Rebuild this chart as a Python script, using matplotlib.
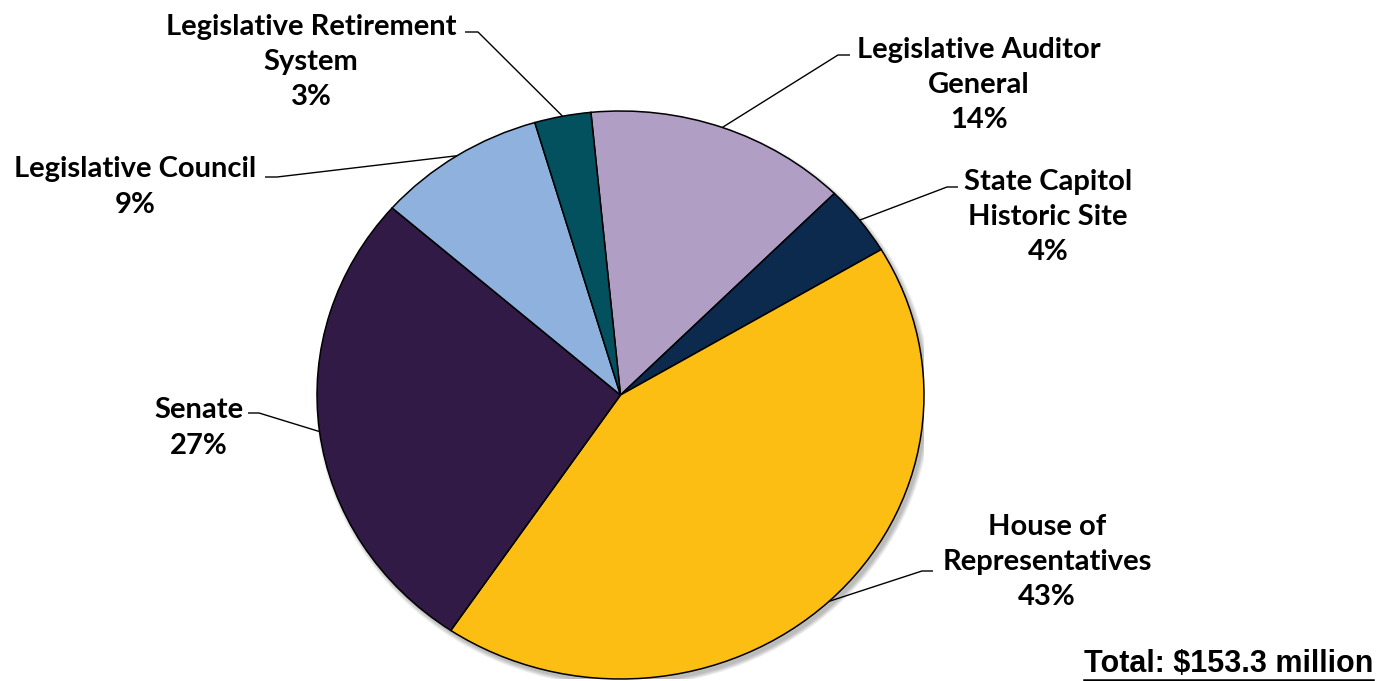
import numpy as np
import matplotlib
matplotlib.use("Agg")
import matplotlib.pyplot as plt
from matplotlib.patches import Ellipse

# Budget shares by entity, listed clockwise from the top
labels = ["Legislative Auditor\nGeneral", "State Capitol\nHistoric Site",
          "House of\nRepresentatives", "Senate", "Legislative Council",
          "Legislative Retirement\nSystem"]
shares = [14, 4, 43, 27, 9, 3]
colors = ["#B09EC5", "#0C2A4E", "#FDBE14", "#311A46", "#8EB1DE", "#03505F"]
total_text = "Total: $153.3 million"

W, H = 1390, 681
fig = plt.figure(figsize=(W / 100, H / 100), dpi=100)
fig.patch.set_facecolor("white")

# Pie area (pixels): centre (620.5, 395), radii 303.5 x 284 -> slightly oval
cx, cy, rx, ry = 620.5, 395.0, 303.5, 284.0
ax = fig.add_axes([(cx - rx) / W, (H - cy - ry) / H, 2 * rx / W, 2 * ry / H])


def px(x, y):
    """Pixel position -> pie data coordinates."""
    return (x - cx) / rx, (cy - y) / ry


# soft drop shadow below/right of the pie
for i in range(8):
    g = 0.004 * i
    ax.add_patch(Ellipse((3 / rx, -4 / ry), 2 + g, 2 + g, facecolor="#000000",
                         alpha=0.035, edgecolor="none", zorder=0))

start = 95.6
wedges, _ = ax.pie(shares, colors=colors, startangle=start, counterclock=False,
                   wedgeprops=dict(edgecolor="black", linewidth=1.1),
                   radius=1.0, frame=False)
for w in wedges:
    w.set_zorder(2)
ax.set_aspect("auto")
ax.set_xlim(-1, 1)
ax.set_ylim(-1, 1)
ax.axis("off")

# Label block centres and leader elbows, in pixels
label_pos = [(979, 85), (1048, 217), (1047, 562), (199, 428), (135, 187), (311, 62)]
leader = [((850, 55), (838, 55)), ((958, 187), (947, 187)),
          ((933, 571), (922, 571)), ((248, 413), (259, 413)),
          ((265, 177), (277, 177)), ((465, 32), (478, 32))]

angles = start - np.cumsum([0] + shares[:-1]) * 3.6 - np.array(shares) * 1.8
for lab, val, (lx, ly), (p0, p1), a in zip(labels, shares, label_pos, leader, angles):
    t = np.deg2rad(a)
    rim = (np.cos(t), np.sin(t))
    x0, y0 = px(*p0)
    x1, y1 = px(*p1)
    ax.plot([x0, x1, rim[0]], [y0, y1, rim[1]], color="black", lw=1.0,
            zorder=3, clip_on=False, solid_capstyle="butt")
    tx, ty = px(lx, ly)
    ax.text(tx, ty, f"{lab}\n{val}%", ha="center", va="center",
            multialignment="center", fontsize=21, fontweight="bold",
            family="Lato", linespacing=1.44, color="black")

# total, underlined
tx, ty = 1373 / W, 1 - 664 / H
t = fig.text(tx, ty, total_text, ha="right", va="center", fontsize=22,
             fontweight="bold", family="Liberation Sans", color="black")
fig.canvas.draw()
bb = t.get_window_extent()
uy = bb.y0 - 1.0
fig.add_artist(plt.Line2D([bb.x0 / W, bb.x1 / W], [uy / H, uy / H],
                          color="black", lw=1.8, transform=fig.transFigure))

fig.savefig("out.png", dpi=100, facecolor="white")
